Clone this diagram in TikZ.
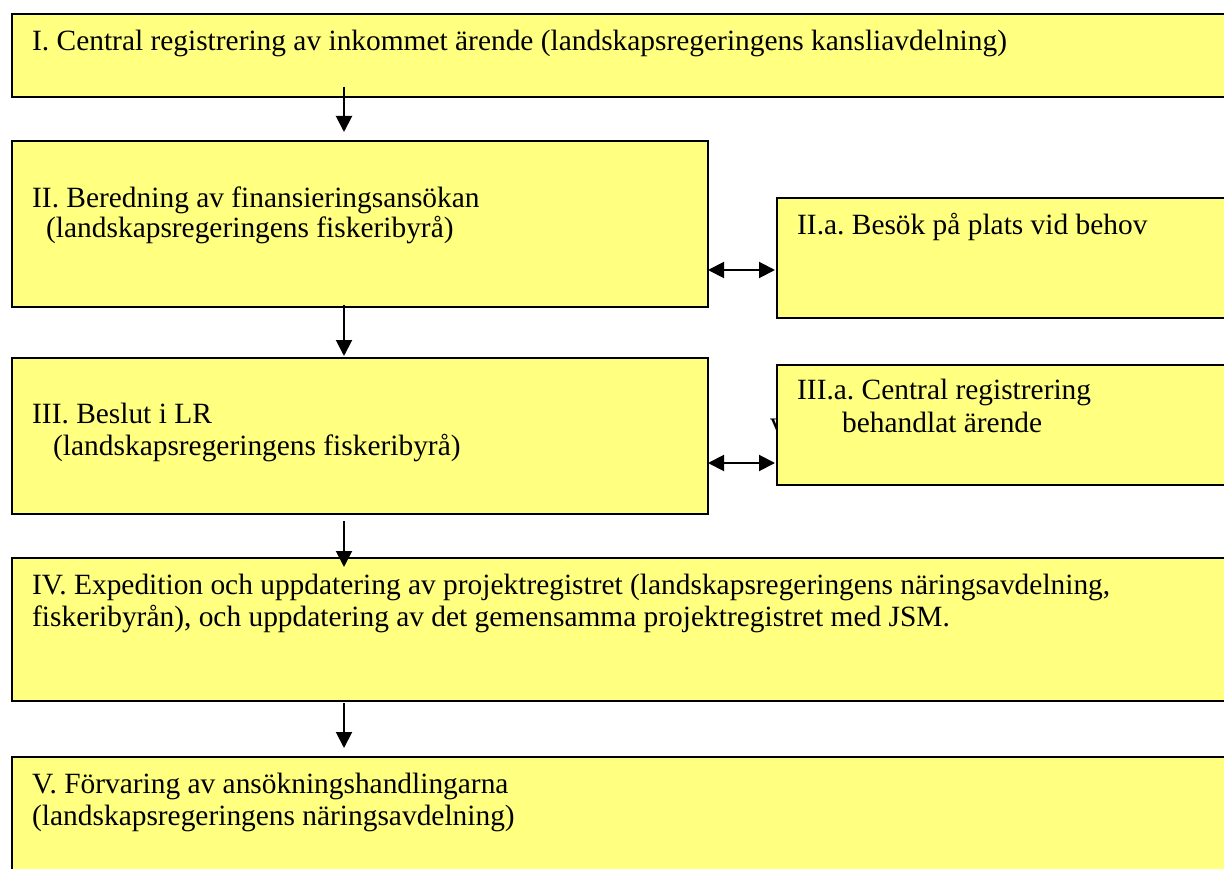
\documentclass[tikz,border=0pt]{standalone}
\usepackage{fontspec}
\setmainfont{Liberation Serif}
\usetikzlibrary{arrows.meta}
\definecolor{boxfill}{RGB}{255,255,128}
\frenchspacing
\tikzset{
  stage/.style={draw=black, fill=boxfill, line width=2pt, anchor=north west, inner sep=0pt},
  txt/.style={anchor=base west, inner sep=0pt, font=\fontsize{29.4}{34}\selectfont},
  flow/.style={line width=2pt, -{Triangle[length=16pt,width=16pt]}},
  twoway/.style={line width=2pt, {Triangle[length=16pt,width=16pt]}-{Triangle[length=16pt,width=16pt]}},
}
\begin{document}
\begin{tikzpicture}[x=1pt,y=-1pt]
\useasboundingbox (0,0) rectangle (1224,869);
\clip (0,0) rectangle (1224,869);

% stages
\node[stage, minimum width=1240pt, minimum height=83pt]  (b1)  at (11,13)  {};
\node[stage, minimum width=696pt,  minimum height=166pt] (b2)  at (11,140) {};
\node[stage, minimum width=460pt,  minimum height=120pt] (b2a) at (776,197) {};
\node[stage, minimum width=696pt,  minimum height=156pt] (b3)  at (11,357) {};
\node[txt] (stray) at (770,432) {v};
\node[stage, minimum width=460pt,  minimum height=120pt] (b3a) at (776,364) {};
\node[stage, minimum width=1240pt, minimum height=143pt] (b4)  at (11,557) {};
\node[stage, minimum width=1240pt, minimum height=130pt] (b5)  at (11,756) {};

% texts
\node[txt] (t1)  at (32,51)  {I. Central registrering av inkommet ärende (landskapsregeringens kansliavdelning)};
\node[txt] (t2)  at (32,208) {II. Beredning av finansieringsansökan};
\node[txt] (t2b) at (46,238) {(landskapsregeringens fiskeribyrå)};
\node[txt] (t2a) at (797,235) {II.a. Besök på plats vid behov};
\node[txt] (t3)  at (32,423) {III. Beslut i LR};
\node[txt] (t3b) at (53,455) {(landskapsregeringens fiskeribyrå)};
\node[txt] (t3a) at (797,399) {III.a. Central registrering};
\node[txt] (t3c) at (842,432) {behandlat ärende};
\node[txt] (t4)  at (32,594) {IV. Expedition och uppdatering av projektregistret (landskapsregeringens näringsavdelning,};
\node[txt] (t4b) at (32,626) {fiskeribyrån), och uppdatering av det gemensamma projektregistret med JSM.};
\node[txt] (t5)  at (32,793) {V. Förvaring av ansökningshandlingarna};
\node[txt] (t5b) at (32,825) {(landskapsregeringens näringsavdelning)};

% flow between stages
\draw[flow] ([xshift=333pt,yshift=11pt]b1.south west) -- ([xshift=333pt,yshift=8pt]b2.north west);
\draw[flow] ([xshift=333pt,yshift=3pt]b2.south west) -- ([xshift=333pt,yshift=1pt]b3.north west);
\draw[flow] ([xshift=333pt,yshift=-6pt]b3.south west) -- ([xshift=333pt,yshift=-10pt]b4.north west);
\draw[flow] ([xshift=333pt,yshift=-1pt]b4.south west) -- ([xshift=333pt,yshift=8pt]b5.north west);

% side steps
\draw[twoway] ([xshift=-1pt,yshift=-46pt]b2.east) -- ([xshift=-1pt,yshift=-12pt]b2a.west);
\draw[twoway] ([xshift=-1pt,yshift=-27pt]b3.east) -- ([xshift=-1pt,yshift=-38pt]b3a.west);
\end{tikzpicture}
\end{document}
